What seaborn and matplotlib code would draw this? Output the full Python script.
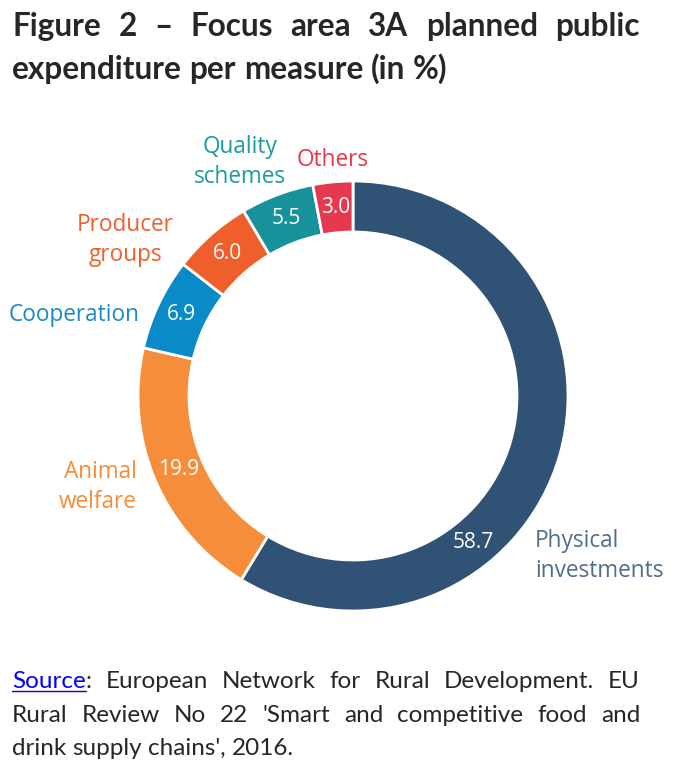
import numpy as np
import matplotlib
matplotlib.use("Agg")
import matplotlib.pyplot as plt
import seaborn as sns
from matplotlib.lines import Line2D

# data
measures = ["Physical\ninvestments", "Animal\nwelfare", "Cooperation",
            "Producer\ngroups", "Quality\nschemes", "Others"]
shares = [58.7, 19.9, 6.9, 6.0, 5.5, 3.0]
colors = ["#305274", "#F58D3B", "#0A8AC6", "#EF5F2C", "#17929A", "#E5394F"]
label_colors = ["#4F6E8C", "#F58D3B", "#1A8BC4", "#EF5F2C", "#1C9AA0", "#E5394F"]

title_lines = ["Figure 2 \u2013 Focus area 3A planned public",
               "expenditure per measure (in %)"]
source_lines = ["Source: European Network for Rural Development. EU",
                "Rural Review No 22 'Smart and competitive food and",
                "drink supply chains', 2016."]

W, H = 682, 781
sns.set_theme(style="white")
plt.rcParams["font.family"] = ["Lato", "DejaVu Sans"]

fig = plt.figure(figsize=(W / 100, H / 100), dpi=100)

# donut: centre (353, 396) px, outer radius 215 px
cx, cy, R = 353, 396, 215
ax = fig.add_axes([(cx - R) / W, (H - cy - R) / H, 2 * R / W, 2 * R / H])
wedges, _ = ax.pie(shares, colors=colors, startangle=90, counterclock=False,
                   radius=1, wedgeprops=dict(width=51 / 215, edgecolor="white",
                                             linewidth=2))
ax.set_xlim(-1, 1)
ax.set_ylim(-1, 1)
ax.set_aspect("equal")
ax.axis("off")

# value labels at the middle of the ring
r_mid = (1 + 164 / 215) / 2
for i, (w, v) in enumerate(zip(wedges, shares)):
    ang = (w.theta1 + w.theta2) / 2
    if i == 0:
        ang = -50.5  # big slice: label placed near its outer label
    a = np.deg2rad(ang)
    ax.text(r_mid * np.cos(a), r_mid * np.sin(a), f"{v:.1f}", color="white",
            ha="center", va="center", fontsize=15, family="Open Sans")

# outer labels (pixel positions)
outer = [
    (535, 556, "left"),
    (137, 487, "right"),
    (140, 315, "right"),
    (125, 240, "center"),
    (240, 162, "center"),
    (333, 160, "center"),
]
for (px, py, ha), lab, c in zip(outer, measures, label_colors):
    ax.text((px - cx) / R, (cy - py) / R, lab, color=c, ha=ha, va="center",
            fontsize=16.3, family="Open Sans", linespacing=1.3)

renderer = fig.canvas.get_renderer()


def put_line(line, y_base, x0, x1, justify, **kw):
    words = line.split(" ")
    texts = [fig.text(0, 1 - y_base / H, w, va="baseline", ha="left", **kw)
             for w in words]
    widths = [t.get_window_extent(renderer).width for t in texts]
    t1 = fig.text(0, 0, "a a", **kw)
    t2 = fig.text(0, 0, "aa", **kw)
    sp = t1.get_window_extent(renderer).width - t2.get_window_extent(renderer).width
    t1.remove()
    t2.remove()
    if justify and len(words) > 1:
        gap = (x1 - x0 - sum(widths)) / (len(words) - 1)
    else:
        gap = sp
    x = x0
    for t, w in zip(texts, widths):
        t.set_x(x / W)
        x += w + gap
    return texts


# title
put_line(title_lines[0], 36, 12, 640, True, fontsize=22.7, fontweight="bold")
put_line(title_lines[1], 79, 12, 640, False, fontsize=22.7, fontweight="bold")

# source
fs = 17.5
texts = put_line(source_lines[0], 688, 12, 640, True, fontsize=fs)
src = texts[0]
src.set_text("Source")
src.set_color("#0000FF")
sw = src.get_window_extent(renderer).width
fig.text((12 + sw) / W, 1 - 688 / H, ":", va="baseline", ha="left", fontsize=fs)
fig.add_artist(Line2D([12 / W, (12 + sw) / W], [1 - 691 / H, 1 - 691 / H],
                      color="#0000FF", lw=1))
put_line(source_lines[1], 722, 12, 640, True, fontsize=fs)
put_line(source_lines[2], 755, 12, 640, False, fontsize=fs)

fig.savefig("out.png", dpi=100)
